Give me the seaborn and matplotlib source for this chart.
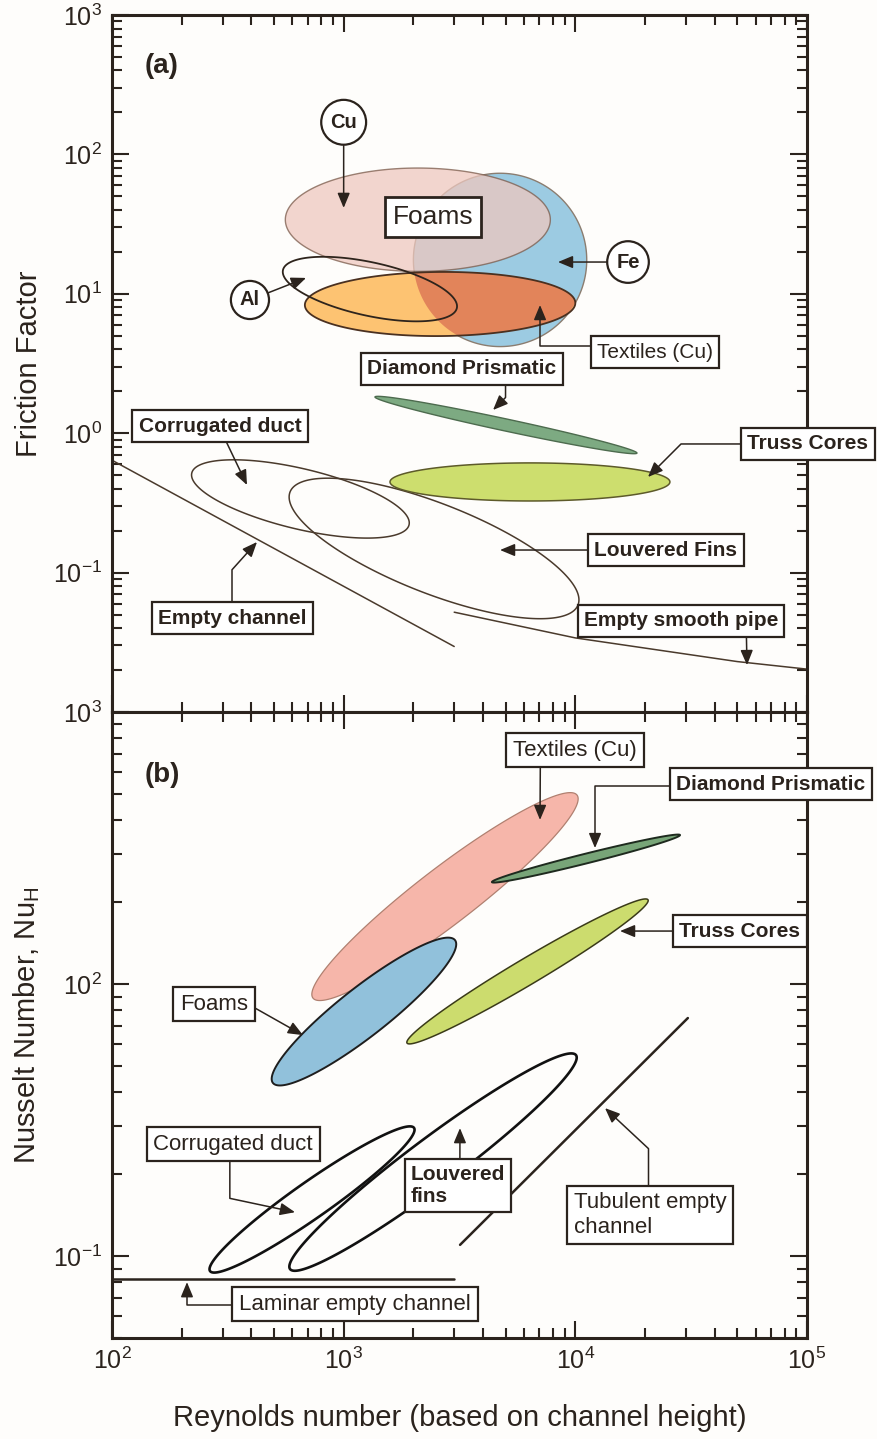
import numpy as np
import matplotlib
matplotlib.use("Agg")
import matplotlib.pyplot as plt
import seaborn as sns
from matplotlib.ticker import FixedLocator, FixedFormatter, LogLocator, NullFormatter

# ---------------------------------------------------------------------------
# Data
# ---------------------------------------------------------------------------
# Reynolds-number axis
x_ticks = [1e2, 1e3, 1e4, 1e5]
x_tick_labels = [r"$10^{2}$", r"$10^{3}$", r"$10^{4}$", r"$10^{5}$"]

# Panel (a): friction factor.  Each region is an ellipse given by its two
# end points (Re, f) and its width-to-length ratio.
a_names = ["Fe", "Cu", "Textiles (Cu)", "Al", "Diamond Prismatic",
           "Truss Cores", "Corrugated duct", "Louvered Fins"]
a_re_lo = [2000, 560, 680, 547, 1365, 1585, 221, 587]
a_f_lo = [17.5, 34.0, 8.3, 14.8, 1.82, 0.447, 0.518, 0.379]
a_re_hi = [11200, 7800, 10000, 3080, 18450, 25600, 1915, 10270]
a_f_hi = [17.5, 34.0, 8.6, 7.9, 0.72, 0.447, 0.22, 0.0586]
a_ratio = [1.0, 0.39, 0.237, 0.30, 0.045, 0.136, 0.27, 0.29]

empty_channel_re = [100, 3000]
empty_channel_f = [0.64, 0.0295]
smooth_pipe_re = [3000, 10000, 50000, 100000]
smooth_pipe_f = [0.052, 0.034, 0.023, 0.0203]

a_y_ticks = [1e-1, 1e0, 1e1, 1e2, 1e3]
a_y_tick_labels = [r"$10^{-1}$", r"$10^{0}$", r"$10^{1}$", r"$10^{2}$", r"$10^{3}$"]

# Panel (b): Nusselt number regions (end points (Re, Nu) and width ratio)
b_names = ["Textiles (Cu)", "Foams", "Diamond Prismatic", "Truss Cores",
           "Corrugated duct", "Louvered fins"]
b_re_lo = [737, 495, 4365, 1877, 265, 587]
b_nu_lo = [88.8, 43.3, 237, 60.7, 8.81, 8.96]
b_re_hi = [10170, 3024, 28300, 20590, 2012, 10065]
b_nu_hi = [495, 145, 353, 204, 29.6, 54.8]
b_ratio = [0.17, 0.21, 0.05, 0.093, 0.145, 0.134]

turbulent_re = [3180, 30600]
turbulent_nu = [11.0, 75.0]
laminar_re = [100, 3000]
laminar_nu = [8.23, 8.23]

b_y_ticks = [1e1, 1e2, 1e3]
b_y_tick_labels = [r"$10^{-1}$", r"$10^{2}$", r"$10^{3}$"]

# ---------------------------------------------------------------------------
# Style
# ---------------------------------------------------------------------------
INK = "#2b231d"
BG = "#fefdfb"

sns.set_theme(style="ticks")
plt.rcParams.update({
    "font.family": ["Liberation Sans", "DejaVu Sans"],
    "mathtext.fontset": "custom",
    "mathtext.rm": "Liberation Sans",
    "mathtext.it": "Liberation Sans:italic",
    "mathtext.bf": "Liberation Sans:bold",
    "mathtext.default": "regular",
    "text.color": INK,
})

fig = plt.figure(figsize=(8.78, 14.39), dpi=100, facecolor=BG)
W_FIG, H_FIG = 878, 1439
left, width = 112 / W_FIG, 695 / W_FIG
ax_f = fig.add_axes([left, 1 - 712 / H_FIG, width, 697 / H_FIG])
ax_n = fig.add_axes([left, 1 - 1338 / H_FIG, width, 626 / H_FIG])


def style_axis(ax, ylim, yticks, ylabels, show_x):
    ax.set_xscale("log")
    ax.set_yscale("log")
    ax.set_xlim(1e2, 1e5)
    ax.set_ylim(*ylim)
    ax.set_facecolor(BG)
    ax.xaxis.set_major_locator(FixedLocator(x_ticks))
    ax.xaxis.set_minor_locator(LogLocator(base=10, subs=np.arange(2, 10), numticks=50))
    ax.yaxis.set_major_locator(FixedLocator(yticks))
    ax.yaxis.set_major_formatter(FixedFormatter(ylabels))
    ax.yaxis.set_minor_locator(LogLocator(base=10, subs=np.arange(2, 10), numticks=50))
    ax.xaxis.set_minor_formatter(NullFormatter())
    ax.yaxis.set_minor_formatter(NullFormatter())
    if show_x:
        ax.xaxis.set_major_formatter(FixedFormatter(x_tick_labels))
    else:
        ax.xaxis.set_major_formatter(NullFormatter())
    ax.tick_params(which="both", direction="in", top=True, right=True,
                   color=INK, width=1.5)
    ax.tick_params(which="major", length=12, labelsize=18, pad=7, labelcolor=INK)
    ax.tick_params(which="minor", length=7)
    for s in ax.spines.values():
        s.set_linewidth(2.2)
        s.set_color(INK)


style_axis(ax_f, (1e-2, 1e3), a_y_ticks, a_y_tick_labels, False)
style_axis(ax_n, (5, 1e3), b_y_ticks, b_y_tick_labels, True)


def region(ax, re_pair, v_pair, ratio, n=361):
    """Ellipse through two end points, drawn in the axes' log-log frame."""
    ends = ax.transData.transform(np.column_stack([re_pair, v_pair]))
    centre = ends.mean(axis=0)
    dx, dy = ends[1] - ends[0]
    a = np.hypot(dx, dy) / 2
    b = a * ratio
    phi = np.arctan2(dy, dx)
    t = np.linspace(0, 2 * np.pi, n)
    px = centre[0] + a * np.cos(t) * np.cos(phi) - b * np.sin(t) * np.sin(phi)
    py = centre[1] + a * np.cos(t) * np.sin(phi) + b * np.sin(t) * np.cos(phi)
    pts = ax.transData.inverted().transform(np.column_stack([px, py]))
    return pts[:, 0], pts[:, 1]


def a_region(i):
    return region(ax_f, [a_re_lo[i], a_re_hi[i]], [a_f_lo[i], a_f_hi[i]], a_ratio[i])


def b_region(i):
    return region(ax_n, [b_re_lo[i], b_re_hi[i]], [b_nu_lo[i], b_nu_hi[i]], b_ratio[i])


# ---------------------------------------------------------------------------
# Panel (a)
# ---------------------------------------------------------------------------
THIN = "#4a3a2c"
# outlined regions
for i in (6, 7):
    x, y = a_region(i)
    ax_f.fill(x, y, facecolor="none", edgecolor=THIN, lw=1.1, zorder=2)

sns.lineplot(x=empty_channel_re, y=empty_channel_f, ax=ax_f, color=THIN, lw=1.1, zorder=2)
sns.lineplot(x=smooth_pipe_re, y=smooth_pipe_f, ax=ax_f, color=THIN, lw=1.1, zorder=2)

x, y = a_region(0)
fe_patch = ax_f.fill(x, y, facecolor="#9ccbe2", edgecolor="#8b7d70", lw=1.0, zorder=3)[0]
x, y = a_region(1)
ax_f.fill(x, y, facecolor="#eec8bf", alpha=0.75, edgecolor="#7a5a4a", lw=1.0, zorder=3)
x, y = a_region(2)
ax_f.fill(x, y, facecolor="#fdc372", edgecolor="none", zorder=3)
dark = ax_f.fill(x, y, facecolor="#e2845a", edgecolor="none", zorder=3)[0]
dark.set_clip_path(fe_patch)
ax_f.fill(x, y, facecolor="none", edgecolor="#4a3020", lw=1.3, zorder=3)
x, y = a_region(3)
ax_f.fill(x, y, facecolor="none", edgecolor="#2e241c", lw=1.3, zorder=4)
x, y = a_region(4)
ax_f.fill(x, y, facecolor="#7daa82", edgecolor="#4d6b4e", lw=1.0, zorder=3)
x, y = a_region(5)
ax_f.fill(x, y, facecolor="#cdde6e", edgecolor="#5d5a2a", lw=1.1, zorder=3)

# ---------------------------------------------------------------------------
# Panel (b)
# ---------------------------------------------------------------------------
sns.lineplot(x=laminar_re, y=laminar_nu, ax=ax_n, color=INK, lw=1.8, zorder=2)
sns.lineplot(x=turbulent_re, y=turbulent_nu, ax=ax_n, color=INK, lw=1.8, zorder=2)

b_faces = ["#f6b6aa", "#91c1db", "#78a578", "#ccdc6e", "none", "none"]
b_edges = ["#b08070", "#1e1e1e", "#1e2a1e", "#3a3a18", "#111111", "#111111"]
b_lws = [0.9, 1.4, 1.4, 1.1, 1.9, 1.9]
for i in range(len(b_names)):
    x, y = b_region(i)
    ax_n.fill(x, y, facecolor=b_faces[i], edgecolor=b_edges[i], lw=b_lws[i], zorder=3)

# ---------------------------------------------------------------------------
# Call-outs
# ---------------------------------------------------------------------------
def callout(ax, text, xytext, xy=None, weight="bold", size=15, relpos=(0.5, 0.5),
            conn="arc3", circle=False, ha="center", lw=1.6):
    box = dict(boxstyle="circle,pad=0.45" if circle else "square,pad=0.3",
               fc="white", ec=INK, lw=lw)
    kw = dict(ha=ha, va="center", fontsize=size, fontweight=weight, color=INK,
              bbox=box, annotation_clip=False, zorder=10, multialignment="left")
    if xy is None:
        ax.annotate(text, xy=xytext, xycoords="data", **kw)
        return
    ax.annotate(text, xy=xy, xytext=xytext, xycoords="data", textcoords="data",
                arrowprops=dict(arrowstyle="-|>,head_length=0.6,head_width=0.25",
                                color=INK, lw=1.1, relpos=relpos,
                                connectionstyle=conn, shrinkA=0, shrinkB=0,
                                mutation_scale=15),
                **kw)


# (a)
ax_f.text(0.072, 0.927, "(a)", transform=ax_f.transAxes, fontsize=20,
          fontweight="bold", ha="center", va="center", color=INK)
callout(ax_f, "Cu", (1000, 170), (1000, 41.3), circle=True, size=14.5)
callout(ax_f, "Fe", (16880, 16.9), (8414, 16.9), circle=True, size=14.5)
callout(ax_f, "Al", (394, 9.03), (688, 13.0), circle=True, size=14.5)
callout(ax_f, "Foams", (2430, 35.6), weight="normal", size=19, lw=2.0)
callout(ax_f, "Textiles (Cu)", (22080, 3.82), (7040, 8.31), weight="normal",
        relpos=(0, 0.8), conn="angle,angleA=0,angleB=90,rad=0")
callout(ax_f, "Diamond Prismatic", (3243, 2.89), (4413, 1.467), relpos=(0.73, 0),
        conn="angle,angleA=90,angleB=45,rad=0")
callout(ax_f, "Corrugated duct", (292.6, 1.126), (382.5, 0.425), relpos=(0.52, 0))
callout(ax_f, "Empty channel", (329.6, 0.0472), (422.6, 0.1658), relpos=(0.5, 1),
        conn="angle,angleA=90,angleB=48,rad=0")
callout(ax_f, "Truss Cores", (100990, 0.837), (20590, 0.485), relpos=(0, 0.5),
        conn="angle,angleA=0,angleB=45,rad=0")
callout(ax_f, "Louvered Fins", (24620, 0.1452), (4730, 0.1452), relpos=(0, 0.5))
callout(ax_f, "Empty smooth pipe", (28580, 0.0450), (55080, 0.0217), relpos=(0.836, 0))

# (b)
ax_n.text(0.073, 0.899, "(b)", transform=ax_n.transAxes, fontsize=20,
          fontweight="bold", ha="center", va="center", color=INK)
callout(ax_n, "Textiles (Cu)", (9966, 724.8), (7040, 401), weight="normal", size=16,
        relpos=(0.22, 0))
callout(ax_n, "Diamond Prismatic", (69930, 543.6), (12160, 316), relpos=(0, 0.4),
        conn="angle,angleA=0,angleB=90,rad=0")
callout(ax_n, "Truss Cores", (51360, 156.6), (15590, 156.6), relpos=(0, 0.5))
callout(ax_n, "Foams", (275.6, 84.4), (667.5, 64.9), weight="normal", size=16,
        relpos=(1, 0.5))
callout(ax_n, "Corrugated duct", (333, 25.8), (616.6, 14.5), weight="normal", size=16,
        relpos=(0.48, 0), conn="angle,angleA=90,angleB=168,rad=0")
callout(ax_n, "Louvered\nfins", (3115, 18.2), (3177, 29.55), relpos=(0.52, 1))
callout(ax_n, "Tubulent empty\nchannel", (21010, 14.15), (13430, 35.0), weight="normal",
        size=16, relpos=(0.49, 1), conn="angle,angleA=90,angleB=-43,rad=0")
callout(ax_n, "Laminar empty channel", (1119, 6.66), (210.7, 8.02), weight="normal",
        size=16, relpos=(0, 0.45), conn="angle,angleA=0,angleB=90,rad=0")

# ---------------------------------------------------------------------------
# Axis labels
# ---------------------------------------------------------------------------
ax_f.set_xlabel("")
ax_f.set_ylabel("Friction Factor", fontsize=21, color=INK)
ax_f.yaxis.set_label_coords(-0.10, 0.5)
ax_n.set_ylabel(r"Nusselt Number, Nu$_{H}$", fontsize=21, color=INK)
ax_n.yaxis.set_label_coords(-0.10, 0.5)
ax_n.set_xlabel("Reynolds number (based on channel height)", fontsize=21, color=INK)
ax_n.xaxis.set_label_coords(0.5, -0.105)

fig.savefig("out.png", dpi=100, facecolor=BG)
